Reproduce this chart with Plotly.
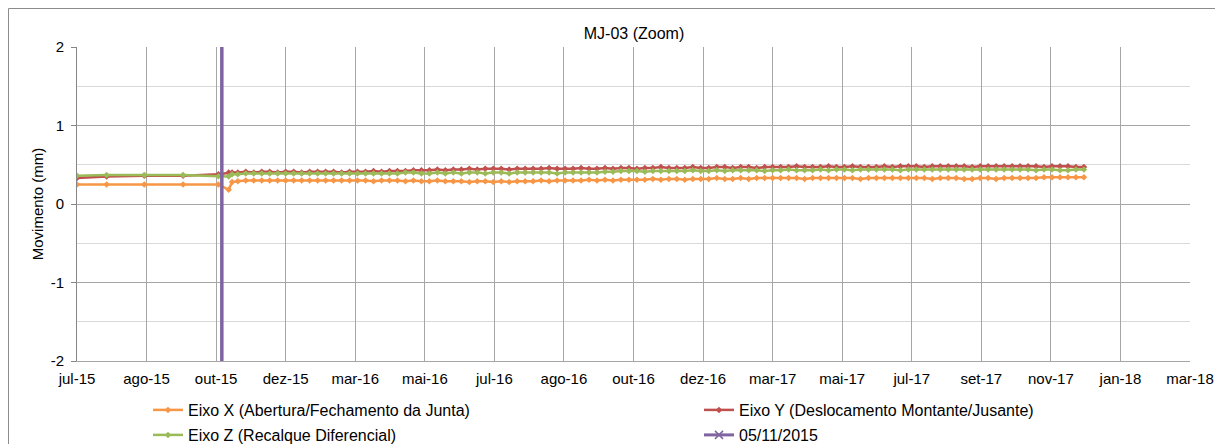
import pandas as pd
import plotly.graph_objects as go

# ---------------- data ----------------
early_dates = ["2015-07-01", "2015-07-27", "2015-08-29", "2015-10-02",
               "2015-11-02", "2015-11-11", "2015-11-14"]
early_x = [0.25, 0.25, 0.25, 0.25, 0.25, 0.18, 0.28]
early_y = [0.33, 0.35, 0.36, 0.36, 0.38, 0.40, 0.40]
early_z = [0.36, 0.37, 0.37, 0.37, 0.355, 0.35, 0.38]

weekly_start = "2015-11-19"   # weekly readings from this date on

eixo_x = [0.29, 0.30, 0.30, 0.30, 0.30, 0.30, 0.30,
          0.30, 0.30, 0.30, 0.30,
          0.30, 0.30, 0.30, 0.30,
          0.30, 0.30, 0.29, 0.30, 0.30,
          0.30, 0.29, 0.30, 0.29,
          0.29, 0.30, 0.29, 0.29,
          0.29, 0.28, 0.29, 0.29, 0.28,
          0.29, 0.28, 0.29, 0.29,
          0.29, 0.30, 0.29, 0.30,
          0.30, 0.30, 0.30, 0.31, 0.30,
          0.31, 0.30, 0.31, 0.31,
          0.31, 0.31, 0.32, 0.31,
          0.32, 0.32, 0.31, 0.32, 0.32,
          0.32, 0.33, 0.32, 0.32,
          0.33, 0.32, 0.33, 0.33,
          0.33, 0.33, 0.33, 0.33, 0.32,
          0.33, 0.33, 0.33, 0.33,
          0.33, 0.33, 0.32, 0.33,
          0.33, 0.33, 0.33, 0.33, 0.33,
          0.33, 0.33, 0.32, 0.33,
          0.33, 0.33, 0.32, 0.32, 0.33,
          0.33, 0.32, 0.33, 0.33,
          0.33, 0.33, 0.33, 0.34,
          0.34, 0.34, 0.34, 0.34, 0.34]

eixo_y = [0.40, 0.41, 0.40, 0.41, 0.41, 0.40, 0.41,
          0.41, 0.40, 0.41, 0.41,
          0.41, 0.41, 0.40, 0.41,
          0.41, 0.41, 0.42, 0.41, 0.42,
          0.42, 0.42, 0.43, 0.43,
          0.43, 0.44, 0.43, 0.44,
          0.44, 0.45, 0.44, 0.45, 0.45,
          0.45, 0.44, 0.45, 0.45,
          0.45, 0.45, 0.46, 0.45,
          0.45, 0.45, 0.46, 0.45, 0.45,
          0.46, 0.45, 0.46, 0.46,
          0.45, 0.46, 0.46, 0.47,
          0.46, 0.46, 0.46, 0.47, 0.46,
          0.46, 0.47, 0.47, 0.46,
          0.47, 0.47, 0.46, 0.47,
          0.47, 0.47, 0.47, 0.48, 0.47,
          0.47, 0.47, 0.48, 0.47,
          0.47, 0.48, 0.47, 0.47,
          0.47, 0.48, 0.47, 0.48, 0.48,
          0.48, 0.47, 0.48, 0.48,
          0.48, 0.48, 0.48, 0.47, 0.48,
          0.48, 0.48, 0.48, 0.48,
          0.48, 0.48, 0.48, 0.47,
          0.48, 0.48, 0.48, 0.47, 0.47]

eixo_z = [0.38, 0.39, 0.39, 0.39, 0.39, 0.39, 0.39,
          0.39, 0.39, 0.39, 0.39,
          0.39, 0.39, 0.39, 0.39,
          0.39, 0.39, 0.39, 0.39, 0.39,
          0.39, 0.40, 0.40, 0.39,
          0.39, 0.40, 0.39, 0.40,
          0.39, 0.40, 0.40, 0.39, 0.40,
          0.40, 0.39, 0.40, 0.40,
          0.40, 0.40, 0.40, 0.39,
          0.40, 0.40, 0.40, 0.40, 0.40,
          0.41, 0.41, 0.42, 0.42,
          0.42, 0.41, 0.42, 0.42,
          0.42, 0.42, 0.42, 0.43, 0.42,
          0.42, 0.43, 0.42, 0.43,
          0.43, 0.43, 0.43, 0.42,
          0.43, 0.43, 0.44, 0.43, 0.43,
          0.43, 0.44, 0.43, 0.44,
          0.44, 0.43, 0.44, 0.44,
          0.44, 0.44, 0.44, 0.43, 0.44,
          0.44, 0.44, 0.44, 0.44,
          0.44, 0.44, 0.44, 0.44, 0.44,
          0.44, 0.44, 0.44, 0.44,
          0.44, 0.44, 0.43, 0.44,
          0.44, 0.43, 0.43, 0.44, 0.44]

event_date = "2015-11-05"
event_label = "05/11/2015"
event_y = [-2, 2]

x_tick_labels = ["jul-15", "ago-15", "out-15", "dez-15", "mar-16", "mai-16",
                 "jul-16", "ago-16", "out-16", "dez-16", "mar-17", "mai-17",
                 "jul-17", "set-17", "nov-17", "jan-18", "mar-18"]
y_tick_values = [-2, -1, 0, 1, 2]
y_tick_labels = ["-2", "-1", "0", "1", "2"]
axis_start = "2015-07-01"
major_unit_days = 61

names = ["Eixo X (Abertura/Fechamento da Junta)",
         "Eixo Y (Deslocamento Montante/Jusante)",
         "Eixo Z (Recalque Diferencial)"]
colors = ["#F79646", "#C0504D", "#9BBB59"]
event_color = "#8064A2"

# ---------------- build ----------------
weekly_dates = list(pd.date_range(weekly_start, periods=len(eixo_x), freq="7D"))
dates = [pd.Timestamp(d) for d in early_dates] + weekly_dates

start = pd.Timestamp(axis_start)
tickvals = [start + pd.Timedelta(days=major_unit_days * k) for k in range(len(x_tick_labels))]
x_end = tickvals[-1]

FONT = "Liberation Sans, Arial, sans-serif"

# page has an 8px body margin: figure coordinates = page coordinates - 8
W, H = 1215, 436
ml, mr, mt, mb = 69, 33, 39, 83
pw, ph = W - ml - mr, H - mt - mb


def px_x(x):
    return (x - ml) / pw


def px_y(y):
    return (H - mb - y) / ph


fig = go.Figure()

series = [early_x + eixo_x, early_y + eixo_y, early_z + eixo_z]
legend_ids = ["legend", "legend2", "legend3"]
for name, vals, col, lg in zip(names, series, colors, legend_ids):
    fig.add_trace(go.Scatter(
        x=dates, y=vals, name=name, mode="lines+markers",
        line=dict(color=col, width=2.5),
        marker=dict(color=col, size=5, symbol="diamond"),
        legend=lg,
    ))

# event line (drawn) + legend entry with the x marker
fig.add_trace(go.Scatter(
    x=[pd.Timestamp(event_date)] * 2, y=event_y, name=event_label,
    mode="lines", line=dict(color=event_color, width=3.5),
    showlegend=False, legend="legend4",
))
fig.add_trace(go.Scatter(
    x=[None], y=[None], name=event_label, mode="lines+markers",
    line=dict(color=event_color, width=3),
    marker=dict(color=event_color, size=8, symbol="x-thin",
                line=dict(color=event_color, width=1.5)),
    legend="legend4",
))

legend_common = dict(orientation="v", xanchor="left", yanchor="middle",
                     font=dict(size=16), itemwidth=30, tracegroupgap=0,
                     bgcolor="rgba(0,0,0,0)", borderwidth=0)
row1, row2 = 402, 427     # legend row centres (figure px)
col1, col2 = 140, 691     # legend left edges (figure px)

fig.update_layout(
    width=W, height=H,
    margin=dict(l=ml, r=mr, t=mt, b=mb, autoexpand=False),
    paper_bgcolor="white", plot_bgcolor="white",
    font=dict(family=FONT, size=15, color="#000000"),
    title=dict(text="MJ-03 (Zoom)", x=px_x(626), xref="paper",
               xanchor="center", y=1 - 25 / H, yref="container",
               yanchor="middle", font=dict(size=16)),
    showlegend=True,
    legend=dict(x=px_x(col1), y=px_y(row1), **legend_common),
    legend2=dict(x=px_x(col2), y=px_y(row1), **legend_common),
    legend3=dict(x=px_x(col1), y=px_y(row2), **legend_common),
    legend4=dict(x=px_x(col2), y=px_y(row2), **legend_common),
    xaxis=dict(type="date", range=[start, x_end], automargin=False,
               tickmode="array", tickvals=tickvals, ticktext=x_tick_labels,
               showgrid=True, gridcolor="#A6A6A6", gridwidth=1,
               showline=True, linecolor="#A6A6A6", linewidth=1,
               ticks="", zeroline=False, ticklabelstandoff=4,
               tickfont=dict(size=15)),
    yaxis=dict(range=[-2, 2], automargin=False,
               tickmode="array", tickvals=y_tick_values, ticktext=y_tick_labels,
               showgrid=True, gridcolor="#A6A6A6", gridwidth=1,
               minor=dict(dtick=0.5, tick0=0, showgrid=True,
                          gridcolor="#D9D9D9", gridwidth=1, ticks=""),
               showline=True, linecolor="#868686", linewidth=1,
               ticks="outside", ticklen=5, tickcolor="#868686",
               ticklabelstandoff=4, zeroline=False,
               title=dict(text="Movimento (mm)", font=dict(size=15), standoff=3),
               tickfont=dict(size=15)),
)

# chart outer frame (bottom edge lies below the visible area)
fig.add_shape(type="path", xref="paper", yref="paper",
              path=(f"M {px_x(0.5)} {px_y(H + 5)} L {px_x(0.5)} {px_y(0.5)} "
                    f"L {px_x(1208)} {px_y(0.5)} L {px_x(1208)} {px_y(H + 5)}"),
              line=dict(color="#8C8C8C", width=1), layer="below")

fig.write_html("out.html")
